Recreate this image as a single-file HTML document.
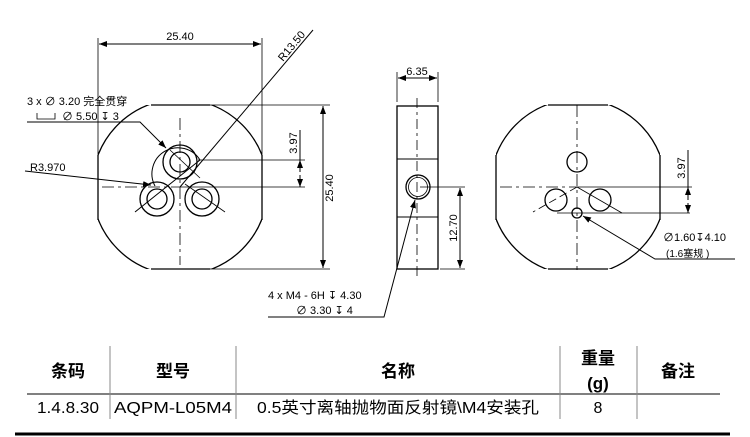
<!DOCTYPE html>
<html><head><meta charset="utf-8"><style>
html,body{margin:0;padding:0;background:#fff;}
svg{display:block;font-family:"Liberation Sans","Noto Sans CJK SC",sans-serif;}
</style></head><body>
<svg width="750" height="437" viewBox="0 0 750 437" xmlns="http://www.w3.org/2000/svg">
<defs>
<marker id="a" markerWidth="8" markerHeight="6" refX="8" refY="3" orient="auto" markerUnits="userSpaceOnUse"><path d="M0,0 L8,3 L0,6z" fill="#000"/></marker>
<marker id="b" markerWidth="8" markerHeight="6" refX="0" refY="3" orient="auto" markerUnits="userSpaceOnUse"><path d="M8,0 L0,3 L8,6z" fill="#000"/></marker>
<clipPath id="c1"><rect x="98" y="105" width="164" height="164"/></clipPath>
<clipPath id="c2"><rect x="496" y="105" width="164" height="164"/></clipPath>
</defs>
<g fill="none" stroke="#000" stroke-width="1">
<g clip-path="url(#c1)"><circle cx="180" cy="187" r="88" stroke-width="1.3"/></g>
<line x1="151" y1="105" x2="210" y2="105" stroke-width="1.3"/>
<line x1="151" y1="269" x2="210" y2="269" stroke-width="1.3"/>
<line x1="98" y1="155" x2="98" y2="220" stroke-width="1.3"/>
<line x1="262" y1="155" x2="262" y2="220" stroke-width="1.3"/>
<line x1="180" y1="118" x2="180" y2="265" stroke-dasharray="12,4,3,4" stroke-width="0.8"/>
<line x1="102" y1="187" x2="180" y2="187" stroke-dasharray="12,4,3,4" stroke-width="0.8"/>
<g stroke-width="1.3">
<circle cx="180" cy="162" r="17"/><circle cx="180" cy="162" r="10"/>
<circle cx="157" cy="199" r="17"/><circle cx="157" cy="199" r="10"/>
<circle cx="202" cy="199" r="17"/><circle cx="202" cy="199" r="10"/>
</g>
<path d="M155,186 A26,26 0 0 1 200,160"/>
<line x1="135" y1="212" x2="200" y2="160"/>
<line x1="170" y1="150" x2="200" y2="178" stroke-width="0.8"/>
<line x1="185" y1="184" x2="225" y2="212" stroke-width="0.8"/>
<line x1="98" y1="38" x2="98" y2="155" stroke-width="0.8"/>
<line x1="262" y1="38" x2="262" y2="155" stroke-width="0.8"/>
<line x1="99" y1="44" x2="261" y2="44" marker-start="url(#b)" marker-end="url(#a)"/>
<line x1="313" y1="30" x2="180" y2="187"/>
<line x1="210" y1="105" x2="330" y2="105" stroke-width="0.8"/>
<line x1="210" y1="269" x2="330" y2="269" stroke-width="0.8"/>
<line x1="323" y1="106" x2="323" y2="268" marker-start="url(#b)" marker-end="url(#a)"/>
<line x1="198" y1="160" x2="305" y2="160" stroke-width="0.8"/>
<line x1="180" y1="187" x2="305" y2="187" stroke-width="0.8"/>
<line x1="300" y1="130" x2="300" y2="160"/>
<line x1="300" y1="172" x2="300" y2="160" marker-end="url(#a)"/>
<line x1="300" y1="175" x2="300" y2="187" marker-end="url(#a)"/>
<polyline points="27,122 140,122 166,148" marker-end="url(#a)"/>
<polyline points="25,171 151,185" marker-end="url(#a)"/>
<rect x="397" y="106" width="41" height="163" stroke-width="1.3"/>
<line x1="397" y1="159" x2="438" y2="159"/>
<line x1="397" y1="217" x2="438" y2="217"/>
<line x1="417" y1="98" x2="417" y2="276" stroke-dasharray="10,4,3,4" stroke-width="0.8"/>
<circle cx="418" cy="187" r="12" stroke-width="1.3"/><circle cx="418" cy="187" r="9.5" stroke-width="0.8"/>
<line x1="397" y1="72" x2="397" y2="102" stroke-width="0.8"/>
<line x1="438" y1="72" x2="438" y2="102" stroke-width="0.8"/>
<line x1="398" y1="78" x2="437" y2="78" marker-start="url(#b)" marker-end="url(#a)"/>
<line x1="420" y1="187" x2="465" y2="187" stroke-width="0.8"/>
<line x1="440" y1="269" x2="465" y2="269" stroke-width="0.8"/>
<line x1="460" y1="188" x2="460" y2="268" marker-start="url(#b)" marker-end="url(#a)"/>
<polyline points="268,317 384,317 415,200" marker-end="url(#a)"/>
<g clip-path="url(#c2)"><circle cx="578" cy="187" r="88" stroke-width="1.3"/></g>
<line x1="548" y1="105" x2="608" y2="105" stroke-width="1.3"/>
<line x1="548" y1="269" x2="608" y2="269" stroke-width="1.3"/>
<line x1="496" y1="155" x2="496" y2="220" stroke-width="1.3"/>
<line x1="660" y1="155" x2="660" y2="220" stroke-width="1.3"/>
<line x1="577" y1="105" x2="577" y2="270" stroke-dasharray="12,4,3,4" stroke-width="0.8"/>
<line x1="500" y1="187" x2="577" y2="187" stroke-dasharray="12,4,3,4" stroke-width="0.8"/>
<g stroke-width="1.3">
<circle cx="577" cy="162" r="10"/>
<circle cx="556" cy="200" r="11"/>
<circle cx="600" cy="200" r="11"/>
<circle cx="577" cy="213" r="5"/>
</g>
<line x1="577" y1="187" x2="533" y2="212" stroke-dasharray="8,4" stroke-width="0.8"/>
<line x1="577" y1="187" x2="622" y2="213" stroke-width="0.8"/>
<line x1="557" y1="213" x2="690" y2="213" stroke-width="0.8"/>
<line x1="577" y1="187" x2="692" y2="187" stroke-width="0.8"/>
<line x1="688" y1="150" x2="688" y2="187"/>
<line x1="688" y1="200" x2="688" y2="187" marker-end="url(#a)"/>
<line x1="688" y1="203" x2="688" y2="213" marker-end="url(#a)"/>
<polyline points="735,259 655,259 583,216" marker-end="url(#a)"/>
<line x1="27" y1="394" x2="720" y2="394"/>
<line x1="110" y1="346" x2="110" y2="419" stroke="#888"/>
<line x1="236" y1="346" x2="236" y2="419" stroke="#888"/>
<line x1="560" y1="346" x2="560" y2="419" stroke="#888"/>
<line x1="637" y1="346" x2="637" y2="419" stroke="#888"/>
<line x1="15" y1="434" x2="730" y2="434" stroke-width="3"/>
</g>
<g font-size="11" fill="#000">
<text x="180" y="40" text-anchor="middle">25.40</text>
<text transform="translate(283,62) rotate(-50)">R13.50</text>
<text transform="translate(333,188) rotate(-90)" text-anchor="middle">25.40</text>
<text transform="translate(297,143) rotate(-90)" text-anchor="middle">3.97</text>
<text x="27" y="105">3 x ∅ 3.20 完全贯穿</text>
<text x="62" y="120">∅ 5.50 ↧ 3</text>
<text x="30" y="171">R3.970</text>
<text x="417" y="75" text-anchor="middle">6.35</text>
<text transform="translate(457,228) rotate(-90)" text-anchor="middle">12.70</text>
<text x="268" y="299">4 x  M4 - 6H ↧ 4.30</text>
<text x="296" y="314">∅ 3.30 ↧ 4</text>
<text transform="translate(685,168) rotate(-90)" text-anchor="middle">3.97</text>
<text x="663" y="241">∅1.60↧4.10</text>
<text x="666" y="257" font-size="10">(1.6塞规 )</text>
</g>
<path d="M37,113 L37,119 L55,119 L55,113" fill="none" stroke="#000" stroke-width="0.8"/>
<g font-size="17" font-weight="bold" text-anchor="middle" fill="#000">
<text x="68" y="377">条码</text>
<text x="173" y="377">型号</text>
<text x="398" y="377">名称</text>
<text x="598" y="364">重量</text>
<text x="598" y="389">(g)</text>
<text x="678" y="377">备注</text>
</g>
<g font-size="16" text-anchor="middle" fill="#000">
<text x="68" y="413" textLength="62" lengthAdjust="spacingAndGlyphs">1.4.8.30</text>
<text x="173" y="413" textLength="118" lengthAdjust="spacingAndGlyphs">AQPM-L05M4</text>
<text x="398" y="413" textLength="282" lengthAdjust="spacingAndGlyphs">0.5英寸离轴抛物面反射镜\M4安装孔</text>
<text x="598" y="413">8</text>
</g>
</svg>
</body></html>
